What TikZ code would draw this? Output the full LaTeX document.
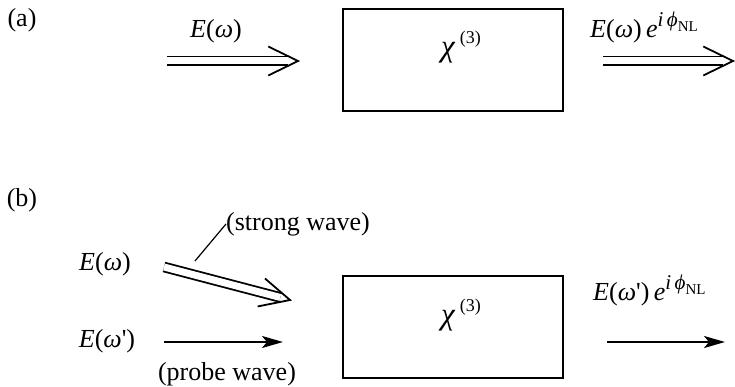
\documentclass[tikz,border=0pt]{standalone}
\usepackage{fontspec}
\setmainfont{Liberation Serif}
\usetikzlibrary{calc,arrows.meta}

\newcommand{\Eom}{\textit{E}(\textit{ω})}
\newcommand{\Eomp}{\textit{E}(\textit{ω}\textquotesingle)}
\newcommand{\phasefac}{\,\textit{e}\raisebox{11pt}{\fontsize{21}{21}\selectfont\textit{i\,ϕ}\raisebox{-5pt}{\fontsize{15}{15}\selectfont NL}}}
\newcommand{\chithree}{{\fontsize{31}{31}\selectfont\textit{χ}}\,\raisebox{13pt}{\fontsize{18}{18}\selectfont(3)}}

\tikzset{
  lbl/.style={font=\fontsize{26}{30}\selectfont, inner sep=0pt},
  medium/.style={draw, line width=1.3pt},
  shaft/.style={double, double distance=7pt, line width=1.8pt},
  chev/.style={line width=1.8pt, line join=miter},
  probe/.style={line width=2pt, -{Stealth[length=21pt,width=12pt,inset=5pt]}},
}
\newcommand{\dblarrow}[2]{%
  \draw[shaft, shorten >=10pt] (#1) -- (#2);
  \draw[chev] ($(#2)!33pt!26:(#1)$) -- (#2) -- ($(#2)!33pt!-26:(#1)$);
}

\begin{document}
\begin{tikzpicture}[x=1pt,y=-1pt]
\useasboundingbox (0,0) rectangle (735,387);

% ---------- (a) ----------
\node[lbl] (la) at (22,20) {(a)};
\node[medium, minimum width=220pt, minimum height=102pt, inner sep=0pt] (boxa) at (453,60) {};
\node[lbl, anchor=base] (chia) at (461,57) {\chithree};
\coordinate (ain) at (167,61);
\coordinate (atip) at (298,61);
\dblarrow{ain}{atip}
\node[lbl, anchor=base] (ea) at (216,38) {\Eom};
\coordinate (aout) at (603,61);
\coordinate (aouttip) at (733,61);
\dblarrow{aout}{aouttip}
\node[lbl, anchor=base west] (eaout) at (590,38) {\Eom\phasefac};

% ---------- (b) ----------
\node[lbl] (lb) at (22,200) {(b)};
\node[medium, minimum width=220pt, minimum height=102pt, inner sep=0pt] (boxb) at (453,327) {};
\node[lbl, anchor=base] (chib) at (461,324) {\chithree};
\node[lbl, anchor=base] (eb) at (105,270) {\Eom};
\coordinate (bin) at (164,267);
\coordinate (btip) at (290,300);
\dblarrow{bin}{btip}
\node[lbl, anchor=west] (sw) at (226,224) {(strong wave)};
\coordinate (ldr) at (195,261);
\draw[line width=1.2pt] (ldr) -- (sw.west);
\node[lbl, anchor=base] (ebp) at (107,347) {\Eomp};
\coordinate (pin) at (164,342);
\coordinate (ptip) at (283,342);
\draw[probe] (pin) -- (ptip);
\node[lbl, anchor=base] (pw) at (227,380) {(probe wave)};
\coordinate (oin) at (607,342);
\coordinate (otip) at (725,342);
\draw[probe] (oin) -- (otip);
\node[lbl, anchor=base west] (ebout) at (593,300) {\Eomp\phasefac};
\end{tikzpicture}
\end{document}
